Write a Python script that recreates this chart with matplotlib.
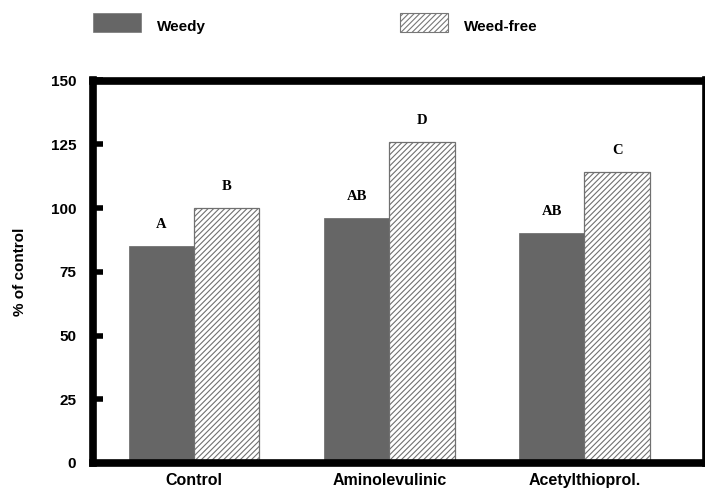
import matplotlib
matplotlib.use("Agg")
import matplotlib.pyplot as plt
from matplotlib.patches import Rectangle
import numpy as np

categories = ["Control", "Aminolevulinic", "Acetylthioprol."]
weedy = [85, 96, 90]
weed_free = [100, 126, 114]
weedy_letters = ["A", "AB", "AB"]
weed_free_letters = ["B", "D", "C"]
yticks = [0, 25, 50, 75, 100, 125, 150]

plt.rcParams["hatch.color"] = "#8a8a8a"
plt.rcParams["hatch.linewidth"] = 0.8

W, H = 705, 493
fig = plt.figure(figsize=(W / 100, H / 100), dpi=100)
ax = fig.add_axes([93 / W, (H - 463) / H, (705.5 - 93) / W, (463 - 80.5) / H])

x = np.arange(len(categories))
bw = 0.335
ax.bar(x - bw / 2, weedy, width=bw, color="#666666", edgecolor="#666666",
       linewidth=0.5, zorder=2)
ax.bar(x + bw / 2, weed_free, width=bw, color="white", edgecolor="#707070",
       linewidth=0.9, hatch="//////", zorder=2)

for xi, v, t in zip(x - bw / 2, weedy, weedy_letters):
    ax.text(xi, v + 8.5, t, ha="center", va="center", family="Liberation Serif",
            fontweight="bold", fontsize=10.5)
for xi, v, t in zip(x + bw / 2, weed_free, weed_free_letters):
    ax.text(xi, v + 8.5, t, ha="center", va="center", family="Liberation Serif",
            fontweight="bold", fontsize=10.5)

ax.set_xlim(-0.518, 2.62)
ax.set_ylim(0, 150)
ax.set_yticks(yticks)
ax.set_xticks(x)
ax.set_xticklabels(categories, family="Liberation Sans", fontweight="bold",
                   fontsize=11.5)
ax.set_yticklabels([str(t) for t in yticks], family="Liberation Sans",
                   fontweight="bold", fontsize=11)
ax.tick_params(axis="y", direction="in", length=7, width=4, pad=12)
ax.tick_params(axis="x", length=0, pad=7)
for lbl in ax.get_yticklines():
    lbl.set_solid_capstyle("round")
for s in ax.spines.values():
    s.set_linewidth(5.5)
    s.set_color("black")
ax.set_ylabel("% of control", family="Liberation Sans", fontweight="bold",
              fontsize=11, labelpad=17)

# Legend row across the top
fig.patches.append(Rectangle((93 / W, (H - 32) / H), 48 / W, 19 / H,
                             transform=fig.transFigure, facecolor="#666666",
                             edgecolor="#777777", linewidth=0.5))
fig.patches.append(Rectangle((400 / W, (H - 32) / H), 48 / W, 19 / H,
                             transform=fig.transFigure, facecolor="white",
                             edgecolor="#777777", linewidth=0.8,
                             hatch="//////"))
fig.text(157 / W, (H - 27) / H, "Weedy", family="Liberation Sans",
         fontweight="bold", fontsize=11, va="center")
fig.text(464 / W, (H - 27) / H, "Weed-free", family="Liberation Sans",
         fontweight="bold", fontsize=11, va="center")

fig.savefig("out.png", dpi=100)
